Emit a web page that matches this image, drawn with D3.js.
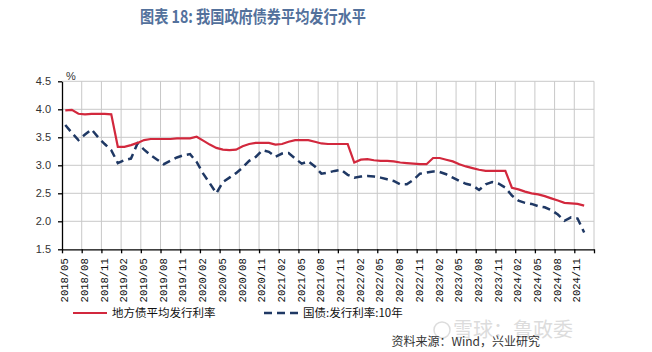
<!DOCTYPE html>
<html>
<head>
<meta charset="utf-8">
<script src="https://cdn.jsdelivr.net/npm/d3@7"></script>
<style>
  body { margin: 0; background: #fff; }
  svg { display: block; }
</style>
</head>
<body>
<div id="chart"></div>
<script>
// monthly series, 2018/05 .. 2024/12
var localRate = [
  3.98, 3.99, 3.92, 3.91, 3.92, 3.92, 3.92, 3.91, 3.33, 3.33, 3.36, 3.40,
  3.45, 3.47, 3.47, 3.47, 3.47, 3.48, 3.48, 3.48, 3.51, 3.44, 3.37, 3.31,
  3.28, 3.27, 3.28, 3.34, 3.38, 3.40, 3.40, 3.40, 3.37, 3.38, 3.42, 3.45,
  3.45, 3.45, 3.42, 3.39, 3.38, 3.38, 3.38, 3.38, 3.05, 3.10, 3.11, 3.09,
  3.08, 3.08, 3.07, 3.05, 3.04, 3.03, 3.02, 3.02, 3.13, 3.13, 3.10, 3.07,
  3.02, 2.98, 2.95, 2.92, 2.90, 2.90, 2.90, 2.90, 2.60, 2.57, 2.53, 2.50,
  2.48, 2.45, 2.41, 2.37, 2.33, 2.32, 2.31, 2.28
];
var cgbRate = [
  3.72, 3.58, 3.45, 3.55, 3.64, 3.50, 3.38, 3.27, 3.04, 3.09, 3.12, 3.39,
  3.28, 3.18, 3.10, 3.02, 3.08, 3.14, 3.18, 3.20, 3.06, 2.85, 2.68, 2.50,
  2.70, 2.78, 2.86, 2.96, 3.08, 3.15, 3.27, 3.24, 3.15, 3.21, 3.22, 3.12,
  3.03, 3.07, 2.98, 2.85, 2.87, 2.90, 2.92, 2.83, 2.78, 2.80, 2.81, 2.80,
  2.78, 2.75, 2.72, 2.66, 2.66, 2.74, 2.85, 2.87, 2.89, 2.88, 2.84, 2.78,
  2.72, 2.67, 2.64, 2.56, 2.66, 2.70, 2.67, 2.60, 2.46, 2.37, 2.33, 2.31,
  2.27, 2.25, 2.20, 2.12, 2.01, 2.07, 2.05, 1.80
];
var tickLabels = [
  "2018/05", "2018/08", "2018/11", "2019/02", "2019/05", "2019/08", "2019/11",
  "2020/02", "2020/05", "2020/08", "2020/11", "2021/02", "2021/05", "2021/08",
  "2021/11", "2022/02", "2022/05", "2022/08", "2022/11", "2023/02", "2023/05",
  "2023/08", "2023/11", "2024/02", "2024/05", "2024/08", "2024/11"
];
var yTicks = [1.5, 2.0, 2.5, 3.0, 3.5, 4.0, 4.5];
var seriesNames = ["地方债平均发行利率", "国债:发行利率:10年"];

var width = 652, height = 352;
var plotLeft = 62, plotRight = 594, plotTop = 81.3, plotBottom = 249.3;

// category axis: one band per month, 2018/05 .. 2025/01
var months = d3.timeMonth.range(new Date(2018, 4, 1), new Date(2025, 1, 1))
  .map(d3.timeFormat("%Y/%m"));

var svg = d3.select("#chart").append("svg")
  .attr("width", width)
  .attr("height", height);

var x = d3.scaleBand().domain(months).range([plotLeft, plotRight]);
var y = d3.scaleLinear().domain([1.5, 4.5]).range([plotBottom, plotTop]);
var xi = d3.scaleLinear().domain([0, months.length]).range([plotLeft, plotRight]);

var tickIdx = tickLabels.map(function (t) { return months.indexOf(t); });

// title
svg.append("text")
  .attr("x", 140)
  .attr("y", 23)
  .attr("textLength", 226)
  .attr("lengthAdjust", "spacingAndGlyphs")
  .style("font-family", "'Noto Sans CJK SC', sans-serif")
  .style("font-size", "17px")
  .style("font-weight", "bold")
  .style("fill", "#53719c")
  .text("图表 18: 我国政府债券平均发行水平");

// grid
var grid = svg.append("g").attr("stroke", "#c8c8c8").attr("stroke-width", 1);
grid.selectAll(".h")
  .data(yTicks.slice(1))
  .enter().append("line")
  .attr("x1", plotLeft).attr("x2", plotRight)
  .attr("y1", function (d) { return y(d); })
  .attr("y2", function (d) { return y(d); });
grid.selectAll(".v")
  .data(tickIdx.slice(1).concat([months.length]))
  .enter().append("line")
  .attr("x1", function (d) { return xi(d); })
  .attr("x2", function (d) { return xi(d); })
  .attr("y1", plotTop).attr("y2", plotBottom);

// axes
var yAxis = svg.append("g")
  .attr("transform", "translate(" + plotLeft + ",0)")
  .call(d3.axisLeft(y).tickValues(yTicks).tickFormat(d3.format(".1f")).tickSize(4).tickPadding(7).tickSizeOuter(0));
yAxis.selectAll("text")
  .style("font-family", "'Liberation Sans', Arial, sans-serif")
  .style("font-size", "11px")
  .style("fill", "#333");

var xAxis = svg.append("g")
  .attr("transform", "translate(0," + plotBottom + ")")
  .call(d3.axisBottom(xi)
    .tickValues(tickIdx.concat([months.length]))
    .tickFormat(function (d) { return d < months.length ? months[d] : ""; })
    .tickSize(4)
    .tickSizeOuter(0));
xAxis.selectAll("text")
  .attr("transform", "rotate(-90)")
  .attr("text-anchor", "end")
  .attr("x", -9)
  .attr("y", 2)
  .attr("dy", "0.35em")
  .style("font-family", "'Liberation Mono', monospace")
  .style("font-size", "10.5px")
  .style("fill", "#111");

svg.selectAll(".domain, .tick line").attr("stroke", "#000").attr("stroke-width", 1.3);

svg.append("text")
  .attr("x", 66)
  .attr("y", 80)
  .style("font-family", "'Liberation Sans', Arial, sans-serif")
  .style("font-size", "11px")
  .style("fill", "#333")
  .text("%");

// lines
var line = d3.line()
  .x(function (d, i) { return x(months[i]) + x.bandwidth() / 2; })
  .y(function (d) { return y(d); });

svg.append("path")
  .datum(cgbRate)
  .attr("d", line)
  .attr("fill", "none")
  .attr("stroke", "#1f3864")
  .attr("stroke-width", 2.5)
  .attr("stroke-dasharray", "8,5");

svg.append("path")
  .datum(localRate)
  .attr("d", line)
  .attr("fill", "none")
  .attr("stroke", "#d2283d")
  .attr("stroke-width", 2.2);

// legend
var legend = svg.append("g").style("font-family", "'Noto Sans CJK SC', sans-serif").style("font-size", "11.5px");
legend.append("line")
  .attr("x1", 73).attr("x2", 107).attr("y1", 313).attr("y2", 313)
  .attr("stroke", "#d2283d").attr("stroke-width", 2.2);
legend.append("text")
  .attr("x", 112).attr("y", 317)
  .style("fill", "#111")
  .text(seriesNames[0]);
legend.append("line")
  .attr("x1", 264).attr("x2", 298).attr("y1", 313).attr("y2", 313)
  .attr("stroke", "#1f3864").attr("stroke-width", 2.5)
  .attr("stroke-dasharray", "8,5");
legend.append("text")
  .attr("x", 303).attr("y", 317)
  .style("fill", "#111")
  .text(seriesNames[1]);

// watermark
var wm = svg.append("g").style("opacity", 0.5);
wm.append("circle")
  .attr("cx", 442).attr("cy", 330).attr("r", 8)
  .attr("fill", "none").attr("stroke", "#bbb").attr("stroke-width", 1.5);
wm.append("text")
  .attr("x", 453).attr("y", 337)
  .style("font-family", "'Noto Sans CJK SC', sans-serif")
  .style("font-size", "20px")
  .style("fill", "#bbb")
  .text("雪球：鲁政委");

// source
svg.append("text")
  .attr("x", 540)
  .attr("y", 346)
  .attr("text-anchor", "end")
  .style("font-family", "'Noto Sans CJK SC', sans-serif")
  .style("font-size", "12px")
  .style("fill", "#333")
  .text("资料来源：Wind，兴业研究");
</script>
</body>
</html>
